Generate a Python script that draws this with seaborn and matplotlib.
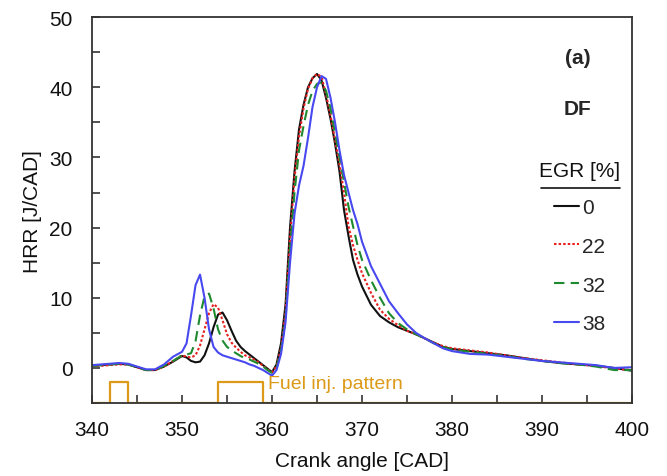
import numpy as np
import pandas as pd
import matplotlib
matplotlib.use("Agg")
import matplotlib.pyplot as plt
from matplotlib.lines import Line2D
from matplotlib.ticker import MultipleLocator
import seaborn as sns

crank_angle = [340, 341, 342, 343, 344, 345, 346, 347, 348, 349,
               350, 350.5, 351, 351.5, 352, 352.5, 353, 353.5, 354, 354.5,
               355, 355.5, 356, 356.5, 357, 357.5, 358, 358.5, 359, 359.5,
               360, 360.5, 361, 361.5, 362, 362.5, 363, 363.5, 364, 364.5,
               365, 365.5, 366, 366.5, 367, 367.5, 368, 368.5, 369, 369.5,
               370, 371, 372, 373, 374, 375, 376, 377, 378, 379,
               380, 382, 384, 386, 388, 390, 392, 394, 396, 398, 400]

hrr_egr0 = [0.3, 0.4, 0.5, 0.6, 0.5, 0.1, -0.3, -0.3, 0.2, 0.9,
            1.7, 1.5, 1.0, 0.8, 0.9, 1.8, 3.5, 5.8, 7.6, 7.9,
            6.8, 5.3, 3.9, 3.0, 2.4, 1.9, 1.4, 0.9, 0.4, -0.1,
            -0.6, 0.5, 3.5, 9.0, 20.0, 28.0, 34.0, 37.5, 40.0, 41.3,
            41.9, 41.0, 38.5, 35.5, 32.0, 28.0, 22.5, 18.8, 15.4, 13.3,
            11.6, 9.0, 7.4, 6.5, 5.8, 5.3, 4.8, 4.2, 3.6, 3.0,
            2.7, 2.4, 2.1, 1.8, 1.4, 1.0, 0.7, 0.5, 0.3, 0.0, -0.4]

hrr_egr22 = [0.3, 0.3, 0.4, 0.5, 0.5, 0.1, -0.3, -0.3, 0.2, 1.0,
             1.8, 1.6, 1.5, 1.8, 3.2, 5.5, 7.8, 9.1, 8.6, 6.8,
             4.8, 3.6, 2.9, 2.3, 1.8, 1.5, 1.2, 0.8, 0.3, -0.2,
             -0.6, 0.2, 2.8, 8.0, 18.5, 27.0, 33.0, 37.0, 39.8, 41.3,
             41.9, 41.5, 39.0, 36.0, 32.5, 29.0, 25.0, 20.2, 17.5, 15.4,
             13.5, 10.7, 8.3, 7.0, 6.1, 5.3, 4.8, 4.2, 3.6, 3.1,
             2.8, 2.5, 2.2, 1.8, 1.4, 1.1, 0.8, 0.5, 0.3, -0.1, -0.3]

hrr_egr32 = [0.3, 0.4, 0.5, 0.6, 0.5, 0.1, -0.3, -0.3, 0.3, 1.0,
             1.8, 1.9, 2.1, 3.8, 7.5, 10.2, 10.6, 8.5, 5.5, 3.9,
             3.0, 2.5, 2.1, 1.7, 1.4, 1.2, 0.9, 0.6, 0.2, -0.3,
             -0.7, 0.0, 2.5, 7.0, 17.0, 25.0, 31.0, 34.5, 37.5, 39.5,
             40.5, 40.7, 39.5, 37.0, 33.5, 30.0, 26.5, 23.0, 20.2, 17.5,
             15.4, 12.5, 10.0, 7.8, 6.4, 5.5, 4.8, 4.2, 3.5, 3.0,
             2.6, 2.3, 2.0, 1.7, 1.3, 1.0, 0.7, 0.5, 0.2, -0.3, -0.3]

hrr_egr38 = [0.4, 0.5, 0.6, 0.7, 0.6, 0.2, -0.2, -0.2, 0.5, 1.6,
             2.3, 3.5, 7.5, 11.8, 13.3, 10.0, 5.5, 3.0, 2.2, 1.8,
             1.6, 1.4, 1.2, 1.0, 0.8, 0.5, 0.3, 0.0, -0.3, -0.7,
             -1.1, -0.3, 2.0, 6.5, 15.0, 22.0, 26.0, 28.8, 32.8, 37.2,
             40.0, 41.6, 41.2, 38.5, 35.0, 31.0, 27.5, 25.0, 22.5, 20.5,
             18.0, 14.5, 12.0, 9.5, 7.8, 6.2, 5.0, 4.2, 3.5, 2.8,
             2.4, 2.0, 1.9, 1.6, 1.3, 1.0, 0.8, 0.6, 0.4, 0.0, 0.1]

egr_levels = ["0", "22", "32", "38"]

# injection pattern (crank angle, value)
inj_x = [340, 342, 342, 344, 344, 354, 354, 359, 359, 400]
inj_y = [-5, -5, -2, -2, -5, -5, -2, -2, -5, -5]

series = {"0": hrr_egr0, "22": hrr_egr22, "32": hrr_egr32, "38": hrr_egr38}
df = pd.concat([pd.DataFrame({"CA": crank_angle, "HRR": v, "EGR": k})
                for k, v in series.items()], ignore_index=True)

sns.set_theme(style="white")
plt.rcParams["font.family"] = ["Liberation Sans", "DejaVu Sans"]

colors = {"0": "#111111", "22": "#E82020", "32": "#1E8A30", "38": "#4848F0"}
dashes = {"0": "", "22": (1.2, 1.0), "32": (5, 3), "38": ""}

fig = plt.figure(figsize=(6.67, 4.77), dpi=100)
ax = fig.add_axes([0.138, 0.153, 0.8095, 0.809])

sns.lineplot(data=df, x="CA", y="HRR", hue="EGR", style="EGR",
             palette=colors, dashes=dashes, hue_order=egr_levels,
             style_order=egr_levels, linewidth=1.5, legend=False, ax=ax,
             sort=False, estimator=None)

orange = "#DC9A18"
ax.plot(inj_x, inj_y, color=orange, linewidth=1.6, zorder=1)
ax.text(359.6, -2.2, "Fuel inj. pattern", color=orange, fontsize=14,
        va="center", ha="left")

ax.set_xlim(340, 400)
ax.set_ylim(-5, 50)
ax.set_xticks(range(340, 401, 10))
ax.set_yticks(range(0, 51, 10))
ax.xaxis.set_minor_locator(MultipleLocator(5))
ax.set_yticks([-5, 5, 15, 25, 35, 45], minor=True)
ax.tick_params(axis="both", which="both", direction="in", color="#333333",
               bottom=True, left=True, top=False, right=False)
ax.tick_params(axis="both", which="major", length=6, width=1.2,
               labelsize=15, labelcolor="#111111")
ax.tick_params(axis="x", which="major", pad=12)
ax.tick_params(axis="y", which="major", pad=14)
ax.tick_params(axis="both", which="minor", length=6, width=1.2)
for s in ax.spines.values():
    s.set_color("#333333")
    s.set_linewidth(1.3)

ax.set_xlabel("Crank angle [CAD]", fontsize=15, color="#111111", labelpad=9)
ax.set_ylabel("HRR [J/CAD]", fontsize=15, color="#111111", labelpad=5)

ax.text(0.9, 0.895, "(a)", transform=ax.transAxes, fontsize=15,
        fontweight="bold", ha="center", va="center")
ax.text(0.9, 0.764, "DF", transform=ax.transAxes, fontsize=15,
        fontweight="bold", ha="center", va="center")
ax.text(0.902, 0.603, "EGR [%]", transform=ax.transAxes, fontsize=15,
        ha="center", va="center", color="#111111")
ax.add_line(Line2D([0.831, 0.978], [0.558, 0.558], transform=ax.transAxes,
                   color="#111111", linewidth=1.2))

handles = [Line2D([], [], color=colors[k], linewidth=1.5,
                  dashes=dashes[k] if dashes[k] else (None, None))
           for k in egr_levels]
leg = ax.legend(handles, egr_levels, loc="upper left",
                bbox_to_anchor=(0.84, 0.553), frameon=False, fontsize=15,
                handlelength=1.2, handletextpad=0.15,
                labelspacing=0.95, borderaxespad=0)

fig.savefig("out.png", dpi=100)
